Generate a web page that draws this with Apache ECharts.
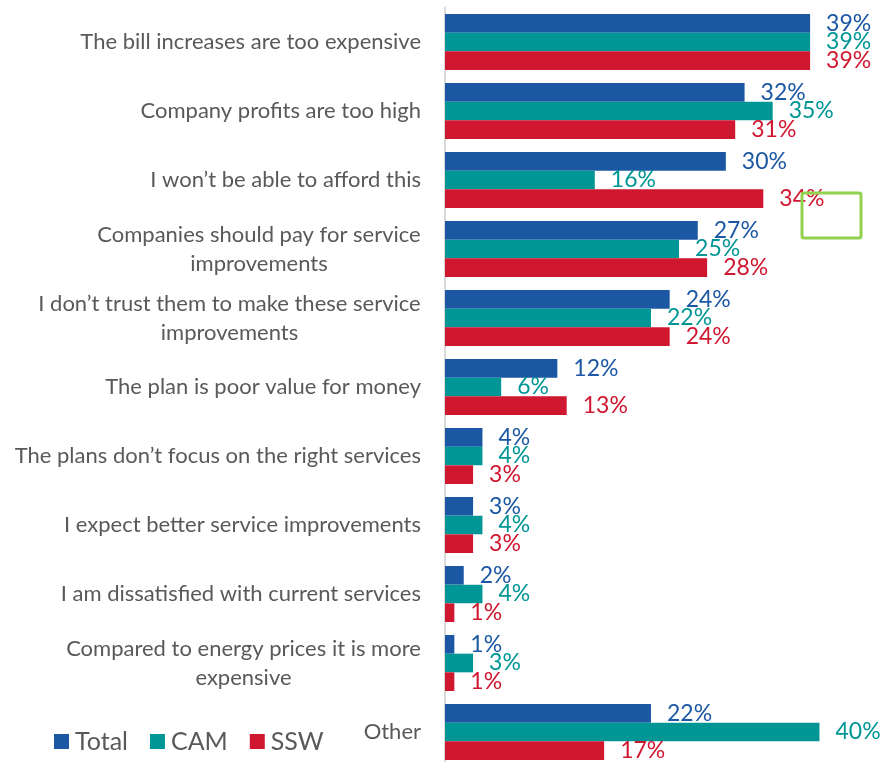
<!DOCTYPE html>
<html>
<head>
<meta charset="utf-8">
<script src="https://cdn.jsdelivr.net/npm/echarts@6/dist/echarts.min.js"></script>
<style>
  html, body { margin: 0; padding: 0; background: #ffffff; }
  #chart { width: 884px; height: 762px; }
</style>
</head>
<body>
<div id="chart"></div>
<script>
// Reasons for finding the proposed plans unacceptable, by group (%)
const categories = [
  'The bill increases are too expensive',
  'Company profits are too high',
  'I won\u2019t be able to afford this',
  'Companies should pay for service\nimprovements',
  'I don\u2019t trust them to make these service\nimprovements',
  'The plan is poor value for money',
  'The plans don\u2019t focus on the right services',
  'I expect better service improvements',
  'I am dissatisfied with current services',
  'Compared to energy prices it is more\nexpensive',
  'Other'
];
const totalValues = [39, 32, 30, 27, 24, 12, 4, 3, 2, 1, 22];
const camValues   = [39, 35, 16, 25, 22, 6, 4, 4, 4, 3, 40];
const sswValues   = [39, 31, 34, 28, 24, 13, 3, 3, 1, 1, 17];
const seriesNames = ['Total', 'CAM', 'SSW'];

const FONT = 'Lato, "Open Sans", sans-serif';
const LABEL_SIZE = 22;
const TEXT_GREY = '#595959';
const COLORS = ['#1B57A3', '#009696', '#D01730'];

// Wrapped category names are centred line-by-line inside a right-aligned block.
const measureCtx = document.createElement('canvas').getContext('2d');
measureCtx.font = LABEL_SIZE + 'px ' + FONT;
const rich = {};
categories.forEach((c, i) => {
  const lines = c.split('\n');
  if (lines.length > 1) {
    const w = Math.ceil(Math.max(...lines.map(l => measureCtx.measureText(l).width)));
    rich['w' + i] = {
      width: w, align: 'center', fontSize: LABEL_SIZE, fontFamily: FONT,
      color: TEXT_GREY, lineHeight: 29
    };
  }
});

const chart = echarts.init(document.getElementById('chart'), null, { renderer: 'canvas' });

function barSeries(name, data, color) {
  return {
    name: name,
    type: 'bar',
    data: data,
    barGap: '0%',
    barCategoryGap: '18.8%',
    itemStyle: { color: color },
    label: {
      show: true,
      position: 'right',
      distance: 16,
      formatter: '{c}%',
      color: color,
      fontSize: 23,
      fontFamily: FONT
    },
    emphasis: { disabled: true },
    animation: false
  };
}

chart.setOption({
  animation: false,
  grid: {
    left: 445, top: 7.5, width: 440, height: 759,
    containLabel: false, outerBoundsMode: 'none'
  },
  legend: {
    data: seriesNames,
    left: 54,
    top: 729,
    padding: 0,
    icon: 'rect',
    itemWidth: 15,
    itemHeight: 15,
    itemGap: 22,
    textStyle: { color: TEXT_GREY, fontSize: 25, fontFamily: FONT, padding: [0, 0, 0, 1] }
  },
  xAxis: {
    type: 'value',
    min: 0,
    max: 47,
    show: false,
    splitLine: { show: false }
  },
  yAxis: {
    type: 'category',
    data: categories,
    inverse: true,
    axisTick: { show: false },
    axisLine: { show: true, lineStyle: { color: '#D9D9D9', width: 2 } },
    axisLabel: {
      margin: 24,
      color: TEXT_GREY,
      fontSize: LABEL_SIZE,
      fontFamily: FONT,
      lineHeight: 29,
      interval: 0,
      formatter: (value, index) => {
        const lines = value.split('\n');
        if (lines.length === 1) return value;
        return lines.map(l => '{w' + index + '|' + l + '}').join('\n');
      },
      rich: rich
    }
  },
  series: [
    barSeries(seriesNames[0], totalValues, COLORS[0]),
    barSeries(seriesNames[1], camValues, COLORS[1]),
    barSeries(seriesNames[2], sswValues, COLORS[2])
  ],
  graphic: [{
    type: 'rect',
    shape: { x: 802, y: 193, width: 59, height: 45, r: 2 },
    style: { fill: 'none', stroke: '#92D050', lineWidth: 3 },
    z: 10
  }]
});
</script>
</body>
</html>
